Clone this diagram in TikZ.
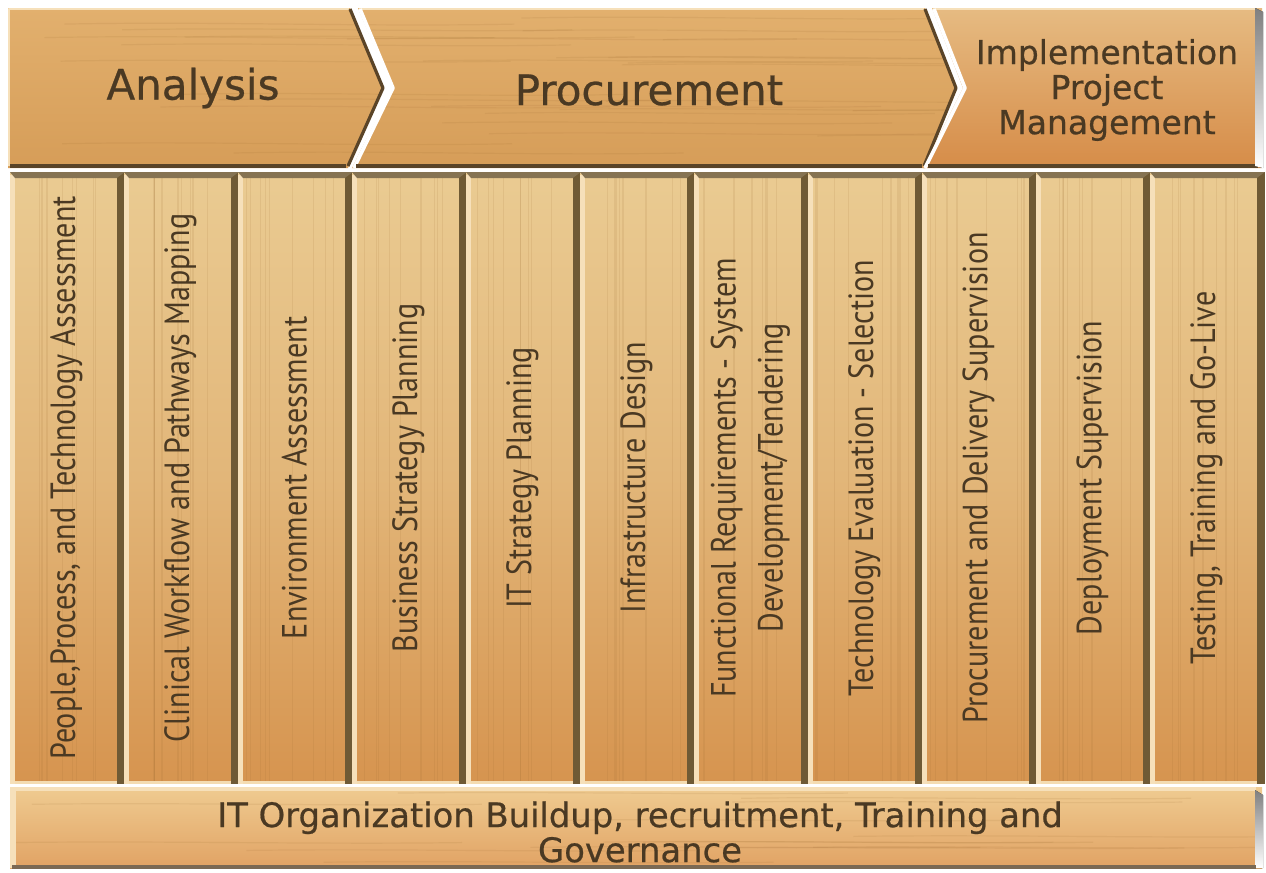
\documentclass[tikz,border=0pt]{standalone}
\usepackage{fontspec}
\setmainfont[FakeBold=0.6]{DejaVu Sans}
\newfontfamily\colfont[FakeStretch=0.86]{PT Sans}
\usetikzlibrary{calc}
\definecolor{hdrtop}{HTML}{E2B06E}
\definecolor{hdrbot}{HTML}{D69D58}
\definecolor{imptop}{HTML}{E6BB82}
\definecolor{impbot}{HTML}{D68C48}
\definecolor{coltop}{HTML}{EACB92}
\definecolor{colmid}{HTML}{E2B679}
\definecolor{colbot}{HTML}{D6944F}
\definecolor{bartop}{HTML}{EFCB91}
\definecolor{barbot}{HTML}{E1A364}
\definecolor{gap}{HTML}{6F5A35}
\definecolor{shade}{HTML}{5A4428}
\definecolor{hilite}{HTML}{F6E0BA}
\definecolor{grain}{HTML}{9A6A30}
\definecolor{ink}{HTML}{4A3923}
\tikzset{
  hdrfill/.style={top color=hdrtop, bottom color=hdrbot, draw=none},
  impfill/.style={top color=imptop, bottom color=impbot, draw=none},
  colbox/.style={draw=none, minimum width=57pt, minimum height=305.5pt, inner sep=0pt,
     top color=coltop, bottom color=colbot, middle color=colmid},
  grainline/.style={draw=grain, line width=0.6pt, opacity=0.12},
  bartext/.style={font=\fontsize{16.9}{17.5}\selectfont, text=ink, align=center},
  hdrtext/.style={font=\fontsize{21}{24}\selectfont, text=ink},
  imptext/.style={font=\fontsize{16.5}{17.5}\selectfont, text=ink, align=center},
  coltext/.style={font=\colfont\fontsize{17.5}{23.5}\selectfont, text=ink, rotate=90, align=center},
  darkedge/.style={draw=shade, line width=1.6pt, line join=round},
  lightedge/.style={draw=hilite, line width=1.4pt, line join=round},
}
\begin{document}
\begin{tikzpicture}[x=0.5pt,y=-0.5pt]
\useasboundingbox[fill=white] (0,0) rectangle (1266,873);
\pgfmathsetseed{11}

% ---------- header panels ----------
\path[hdrfill] (8,8) -- (350,8) -- (384,88) -- (348,168) -- (8,168) -- cycle;
\path[hdrfill] (358,8) -- (925,8) -- (957,88) -- (925,168) -- (352,168) -- (392,88) -- cycle;
\path[impfill] (932,8) -- (1262,8) -- (1262,168) -- (923,168) -- (963,88) -- cycle;
\begin{scope}
  \clip (8,8) -- (350,8) -- (384,88) -- (348,168) -- (8,168) -- cycle
        (358,8) -- (925,8) -- (957,88) -- (925,168) -- (352,168) -- (392,88) -- cycle;
  \foreach \k in {1,...,28} {
    \pgfmathsetmacro{\gy}{12+rnd*150}
    \pgfmathsetmacro{\gx}{rnd*900}
    \draw[grainline] (\gx,\gy) .. controls (\gx+150,\gy-3) and (\gx+300,\gy+3) .. (\gx+450,\gy);
  }
\end{scope}

% bevels of header
\draw[lightedge] (9,166) -- (9,9) -- (349,9);
\draw[lightedge] (359,9) -- (924,9);
\draw[lightedge] (933,9) -- (1255,9);
\draw[darkedge] (350,9) -- (383,88) -- (348,166);
\draw[darkedge] (925,9) -- (956,88) -- (924,166);
\draw[draw=white, line width=1.8pt, line join=round] (360,9) -- (393,88) -- (354,168);
\draw[draw=white, line width=1.8pt, line join=round] (934,9) -- (965,88) -- (925,168);
\draw[draw=shade, line width=2.2pt] (10,166) -- (346,166);
\draw[draw=shade, line width=2.2pt] (356,166) -- (922,166);
\draw[draw=shade, line width=2.2pt] (928,166) -- (1258,166);
\fill[shade] (1255,8) -- (1263,12) -- (1263,168) -- (1255,166) -- cycle;

\node[hdrtext] (ana) at (193,88) {Analysis};
\node[hdrtext] (pro) at (649,90) {Procurement};
\node[imptext] (imp) at (1107,90) {Implementation\\Project\\Management};

% ---------- columns ----------
\foreach \i/\t in {
  1/{People,Process, and Technology Assessment},
  2/{Clinical Workflow and Pathways Mapping},
  3/{Environment Assessment},
  4/{Business Strategy Planning},
  5/{IT Strategy Planning},
  6/{Infrastructure Design},
  7/{Functional Requirements - System\\Development/Tendering},
  8/{Technology Evaluation - Selection},
  9/{Procurement and Delivery Supervision},
  10/{Deployment Supervision},
  11/{Testing, Training and Go-Live}} {
  \pgfmathsetmacro{\xl}{10+114*(\i-1)}
  \node[colbox, anchor=north west] (col\i) at (\xl,172) {};
  % wood grain
  \foreach \k in {1,...,9} {
    \pgfmathsetmacro{\gx}{\xl+8+rnd*96}
    \draw[grainline] (\gx,176) -- (\gx,781);
  }
  % light left edge
  \fill[hilite] (col\i.north west) ++(0,3) rectangle ($(col\i.south west)+(5,0)$);
  % dark right gap
  \fill[gap] ($(col\i.north east)+(-8,0)$) rectangle (col\i.south east);
  % dark top band
  \fill[gap!85] (col\i.north west) -- (col\i.north east) -- ($(col\i.north east)+(-8,6)$) -- ($(col\i.north west)+(5,6)$) -- cycle;
  % light bottom edge
  \fill[hilite!80!coltop] ($(col\i.south west)+(5,-3)$) rectangle ($(col\i.south east)+(-8,0)$);
  \node[coltext] (t\i) at ($(col\i.center)+(-1,0)$) {\t};
}

% ---------- bottom bar ----------
\path[top color=bartop, bottom color=barbot] (10,787) rectangle (1262,868);
\begin{scope}
  \clip (10,787) rectangle (1262,868);
  \foreach \k in {1,...,14} {
    \pgfmathsetmacro{\gy}{792+rnd*72}
    \pgfmathsetmacro{\gx}{rnd*1000}
    \draw[grainline] (\gx,\gy) .. controls (\gx+150,\gy-2) and (\gx+300,\gy+2) .. (\gx+450,\gy);
  }
\end{scope}
\fill[hilite] (10,787) rectangle (16,868);
\fill[hilite] (10,787) rectangle (1256,791);
\fill[shade] (1255,790) -- (1263,795) -- (1263,868) -- (1255,868) -- cycle;
\fill[shade!80] (12,865) rectangle (1256,869);
\node[bartext] (bar) at (640,832) {IT Organization Buildup, recruitment, Training and\\Governance};
\end{tikzpicture}
\end{document}
